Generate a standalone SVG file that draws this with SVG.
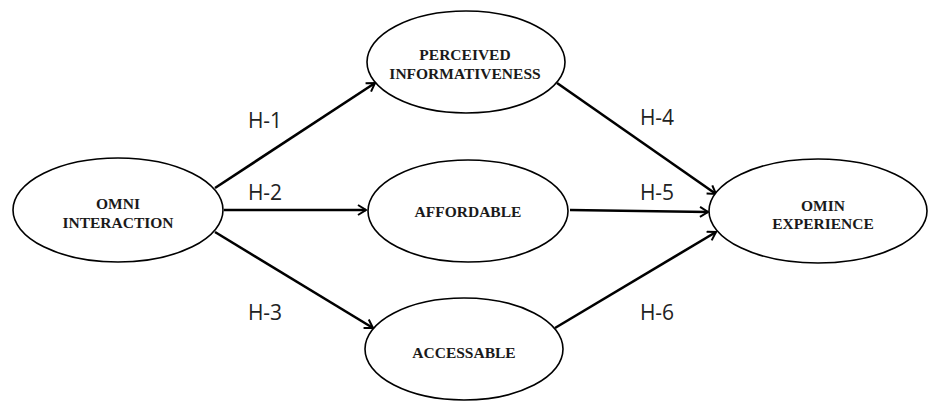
<svg xmlns="http://www.w3.org/2000/svg" width="928" height="402" viewBox="0 0 928 402">
<style>
.node ellipse{fill:#fff;stroke:#000;stroke-width:1.6}
.node text{font-family:"Liberation Serif","Times New Roman",serif;font-weight:bold;font-size:15.5px;fill:#1a1a1a;text-anchor:middle}
.edge{stroke:#000;stroke-width:2.6;fill:none;marker-end:url(#arr)}
.lbl{font-family:"Open Sans","Liberation Sans",sans-serif;font-size:21px;fill:#222;text-anchor:middle}
</style>
<defs>
<marker id="arr" viewBox="0 0 12 12" refX="10" refY="6" markerWidth="12" markerHeight="12" markerUnits="userSpaceOnUse" orient="auto">
<polyline points="2,1 10,6 2,11" fill="none" stroke="#000" stroke-width="2"/>
</marker>
</defs>
<rect width="928" height="402" fill="#fff"/>
<g id="connectors">
<line class="edge" x1="215" y1="188" x2="375" y2="83"/>
<line class="edge" x1="224" y1="210" x2="366" y2="210"/>
<line class="edge" x1="215" y1="232" x2="373" y2="328"/>
<line class="edge" x1="557" y1="83" x2="716" y2="194"/>
<line class="edge" x1="570" y1="210" x2="708" y2="212"/>
<line class="edge" x1="555" y1="328" x2="716" y2="232"/>
<text class="lbl" x="265" y="128">H-1</text>
<text class="lbl" x="265" y="200">H-2</text>
<text class="lbl" x="265" y="320">H-3</text>
<text class="lbl" x="657" y="125">H-4</text>
<text class="lbl" x="657" y="200">H-5</text>
<text class="lbl" x="657" y="320">H-6</text>
</g>
<g id="omni-interaction" class="node">
<ellipse cx="118" cy="210" rx="105" ry="52"/>
<text x="118" y="209">OMNI</text>
<text x="118" y="228">INTERACTION</text>
</g>
<g id="perceived-informativeness" class="node">
<ellipse cx="466" cy="62" rx="99" ry="51"/>
<text x="465" y="60">PERCEIVED</text>
<text x="465" y="79">INFORMATIVENESS</text>
</g>
<g id="affordable" class="node">
<ellipse cx="468" cy="211" rx="100" ry="51"/>
<text x="468" y="217">AFFORDABLE</text>
</g>
<g id="accessable" class="node">
<ellipse cx="464" cy="349" rx="99" ry="51"/>
<text x="464" y="358">ACCESSABLE</text>
</g>
<g id="omin-experience" class="node">
<ellipse cx="818" cy="211" rx="109" ry="52"/>
<text x="823" y="211">OMIN</text>
<text x="823" y="229">EXPERIENCE</text>
</g>
</svg>
